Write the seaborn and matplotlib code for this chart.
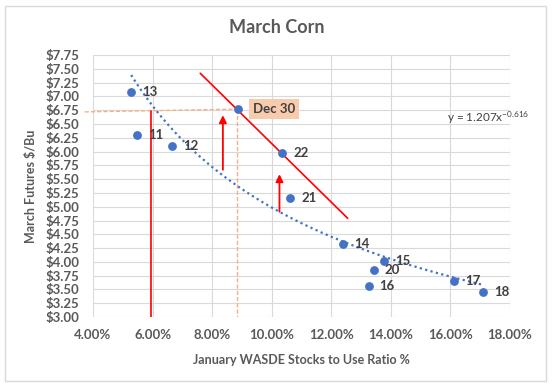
import matplotlib
matplotlib.use("Agg")
import matplotlib.pyplot as plt
import seaborn as sns
import numpy as np
import pandas as pd
from matplotlib.patches import Rectangle
from matplotlib.ticker import FuncFormatter, MultipleLocator

# stocks-to-use ratio (%) and March futures ($/bu)
years = ["13", "11", "12", "Dec 30", "22", "21", "14", "15", "20", "16", "17", "18"]
ratio = [5.28, 5.48, 6.64, 8.87, 10.35, 10.61, 12.38, 13.76, 13.42, 13.25, 16.12, 17.10]
price = [7.08, 6.30, 6.10, 6.77, 5.97, 5.15, 4.32, 4.02, 3.85, 3.56, 3.65, 3.45]

# power trendline shown on the chart: y = a * x^b (x as a fraction)
coef_a = 1.207
coef_b = -0.616

x_ticks = [4, 6, 8, 10, 12, 14, 16, 18]

grey = "#595959"
label_grey = "#404040"
blue = "#4472C4"
orange = "#F4B183"

sns.set_theme(style="whitegrid")
plt.rcParams['font.family'] = ['Lato', 'DejaVu Sans']
plt.rcParams['mathtext.fontset'] = 'custom'
plt.rcParams['mathtext.rm'] = 'Lato'
plt.rcParams['mathtext.it'] = 'Lato'

df = pd.DataFrame({"year": years, "ratio": ratio, "price": price})
trend_x = np.linspace(min(ratio), max(ratio), 200)
trend = pd.DataFrame({"ratio": trend_x, "price": coef_a * (trend_x / 100) ** coef_b})

fig = plt.figure(figsize=(5.54, 3.88), dpi=100)
ax = fig.add_axes([0.1679, 0.183, 0.7527, 0.675])

sns.lineplot(data=trend, x="ratio", y="price", ax=ax, color=blue,
             linestyle=(0, (1, 1.5)), linewidth=1.6, zorder=2)

# guide lines drawn on the chart
ax.plot([3.72, 8.87], [6.72, 6.77], color=orange, linestyle=(0, (3, 1.5)),
        linewidth=1, clip_on=False, zorder=1)
ax.plot([8.85, 8.85], [6.77, 3.0], color=orange, linestyle=(0, (3, 1.5)),
        linewidth=1, zorder=1)
ax.plot([5.96, 5.96], [6.73, 3.0], color="red", linewidth=1.2, zorder=1)
ax.plot([7.60, 12.55], [7.42, 4.79], color="red", linewidth=1.2, zorder=1)
for ax_x, y0, y1 in [(8.36, 5.67, 6.66), (10.26, 4.91, 5.59)]:
    ax.annotate("", xy=(ax_x, y1), xytext=(ax_x, y0),
                arrowprops=dict(arrowstyle="-|>", color="red", lw=1.3,
                                mutation_scale=11, shrinkA=0, shrinkB=0))

sns.scatterplot(data=df, x="ratio", y="price", ax=ax, color=blue, s=40,
                edgecolor=blue, linewidth=0, zorder=3)

for _, r in df.iterrows():
    if r["year"] == "Dec 30":
        ax.annotate(r["year"], (r["ratio"], r["price"]), xytext=(10.5, 0),
                    textcoords="offset points", va="center", ha="left",
                    fontsize=9.5, fontweight="bold", color=label_grey,
                    bbox=dict(boxstyle="square,pad=0.3", facecolor="#F8CBAD",
                              edgecolor="none"), zorder=4)
    else:
        ax.annotate(r["year"], (r["ratio"], r["price"]), xytext=(8, 0),
                    textcoords="offset points", va="center", ha="left",
                    fontsize=9.5, fontweight="bold", color=label_grey, zorder=4)

ax.text(15.9, 6.61, "y = 1.207x$^{-0.616}$", fontsize=8.5, color=label_grey,
        va="center", ha="left")

ax.set_xlim(4, 18)
ax.set_ylim(3, 7.75)
ax.set_xticks(x_ticks)
ax.yaxis.set_major_locator(MultipleLocator(0.25))
ax.xaxis.set_major_formatter(FuncFormatter(lambda v, p: f"{v:.2f}%"))
ax.yaxis.set_major_formatter(FuncFormatter(lambda v, p: f"\\${v:.2f}"))
ax.tick_params(axis="both", labelsize=9.5, colors=grey, length=0)
ax.tick_params(axis="y", pad=10)
ax.tick_params(axis="x", pad=9)
for lab in ax.get_xticklabels() + ax.get_yticklabels():
    lab.set_fontweight("bold")
ax.grid(True, color="#D9D9D9", linewidth=0.8)
for s in ax.spines.values():
    s.set_visible(False)

ax.set_xlabel("January WASDE Stocks to Use Ratio %", fontsize=9,
              fontweight="bold", color=grey, labelpad=9)
ax.set_ylabel("March Futures \\$/Bu", fontsize=9, fontweight="bold",
              color=grey, labelpad=6)
fig.text(0.5, 0.93, "March Corn", ha="center", va="center", fontsize=13,
         fontweight="bold", color=grey)

fig.patches.append(Rectangle((5 / 554, 1 - 381 / 388), 541 / 554, 375 / 388,
                             transform=fig.transFigure, fill=False,
                             edgecolor="#D9D9D9", linewidth=1))

fig.savefig("out.png", dpi=100)
